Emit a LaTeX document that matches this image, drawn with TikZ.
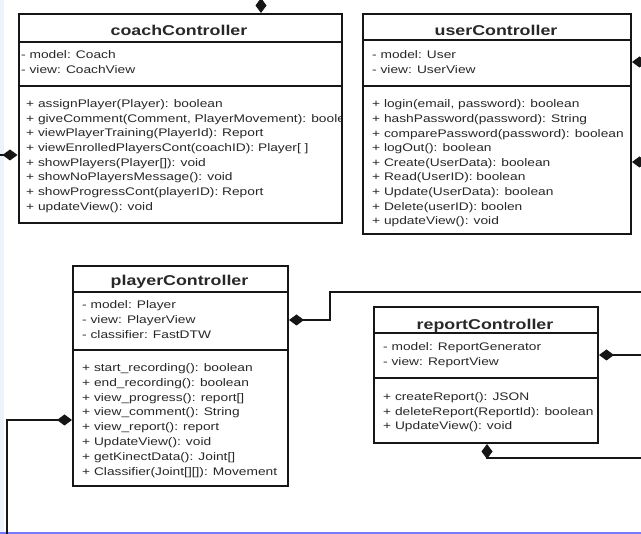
\documentclass[tikz,border=0pt]{standalone}
\usepackage{fontspec}
\setmainfont[FakeStretch=1.25]{Liberation Sans}
\usetikzlibrary{arrows.meta}
\definecolor{ink}{RGB}{22,22,22}
\definecolor{txt}{RGB}{40,40,40}
\definecolor{edgeblue}{RGB}{120,120,255}
\definecolor{paleblue}{RGB}{236,243,251}

\begin{document}
\begin{tikzpicture}[x=1pt,y=-1pt,
  classbox/.style={draw=ink, line width=2pt, fill=white, inner sep=0pt, anchor=north west},
  divider/.style={draw=ink, line width=2pt},
  classname/.style={font=\fontsize{14.25}{17}\selectfont\bfseries, text=txt, inner sep=0pt, anchor=base},
  member/.style={font=\fontsize{11}{13}\selectfont, text=txt, inner sep=0pt, anchor=base west},
  comp/.style={draw=ink, line width=2pt, {Diamond[length=15pt,width=11pt]}-},
]
\useasboundingbox (0,0) rectangle (641,534);
% page frame: pale strip on the left, blue rule at the bottom
\fill[paleblue] (0,0) rectangle (3.5,534);
\draw[edgeblue, line width=2pt] (0,533) -- (641,533);

% ---------------- coachController ----------------
\node[classbox, minimum width=323pt, minimum height=209pt] (coach) at (17.5,13) {};
\draw[divider] ([yshift=-29pt]coach.north west) -- ([yshift=-29pt]coach.north east);
\draw[divider] ([yshift=-73pt]coach.north west) -- ([yshift=-73pt]coach.north east);
\node[classname] (coach-name) at (179,36) {coachController};
\foreach \t [count=\i from 0] in {{- model: Coach},{- view: CoachView}}
  \node[member] (coach-a\i) at (21,58.5+15*\i) {\t};
\begin{scope}
  \clip ([xshift=1pt]coach.north west) rectangle ([xshift=-2.5pt]coach.south east);
  \foreach \t [count=\i from 0] in {
      {+ assignPlayer(Player): boolean},
      {+ giveComment(Comment, PlayerMovement): boolean},
      {+ viewPlayerTraining(PlayerId): Report},
      {+ viewEnrolledPlayersCont(coachID): Player[ ]},
      {+ showPlayers(Player[]): void},
      {+ showNoPlayersMessage(): void},
      {+ showProgressCont(playerID): Report},
      {+ updateView(): void}}
    \node[member] (coach-m\i) at (26,107.5+14.7*\i) {\t};
\end{scope}

% ---------------- userController ----------------
\node[classbox, minimum width=268pt, minimum height=220pt] (user) at (362,13) {};
\draw[divider] ([yshift=-27pt]user.north west) -- ([yshift=-27pt]user.north east);
\draw[divider] ([yshift=-73pt]user.north west) -- ([yshift=-73pt]user.north east);
\node[classname] (user-name) at (496,36) {userController};
\foreach \t [count=\i from 0] in {{- model: User},{- view: UserView}}
  \node[member] (user-a\i) at (372,58.5+15*\i) {\t};
\foreach \t [count=\i from 0] in {
    {+ login(email, password): boolean},
    {+ hashPassword(password): String},
    {+ comparePassword(password): boolean},
    {+ logOut(): boolean},
    {+ Create(UserData): boolean},
    {+ Read(UserID): boolean},
    {+ Update(UserData): boolean},
    {+ Delete(userID): boolen},
    {+ updateView(): void}}
  \node[member] (user-m\i) at (372,108+14.6*\i) {\t};

% ---------------- playerController ----------------
\node[classbox, minimum width=215pt, minimum height=220pt] (player) at (72,265) {};
\draw[divider] ([yshift=-27pt]player.north west) -- ([yshift=-27pt]player.north east);
\draw[divider] ([yshift=-85pt]player.north west) -- ([yshift=-85pt]player.north east);
\node[classname] (player-name) at (179.5,286) {playerController};
\foreach \t [count=\i from 0] in {{- model: Player},{- view: PlayerView},{- classifier: FastDTW}}
  \node[member] (player-a\i) at (82,308.5+15*\i) {\t};
\foreach \t [count=\i from 0] in {
    {+ start\_recording(): boolean},
    {+ end\_recording(): boolean},
    {+ view\_progress(): report[]},
    {+ view\_comment(): String},
    {+ view\_report(): report},
    {+ UpdateView(): void},
    {+ getKinectData(): Joint[]},
    {+ Classifier(Joint[][]): Movement}}
  \node[member] (player-m\i) at (82,371.5+14.8*\i) {\t};

% ---------------- reportController ----------------
\node[classbox, minimum width=224pt, minimum height=136pt] (report) at (373,306) {};
\draw[divider] ([yshift=-27pt]report.north west) -- ([yshift=-27pt]report.north east);
\draw[divider] ([yshift=-72pt]report.north west) -- ([yshift=-72pt]report.north east);
\node[classname] (report-name) at (485,329.5) {reportController};
\foreach \t [count=\i from 0] in {{- model: ReportGenerator},{- view: ReportView}}
  \node[member] (report-a\i) at (383,350.5+15*\i) {\t};
\foreach \t [count=\i from 0] in {
    {+ createReport(): JSON},
    {+ deleteReport(ReportId): boolean},
    {+ UpdateView(): void}}
  \node[member] (report-m\i) at (383,400.5+14.7*\i) {\t};

% ---------------- composition links ----------------
\coordinate (coachTop)  at (261,0);
\coordinate (coachLeft) at (0,155);
\coordinate (userR1)    at (641,62);
\coordinate (userR2)    at (641,162);
\coordinate (playerBend) at (330,320);
\coordinate (playerR)   at (641,292);
\coordinate (playerBendL) at (7,420);
\coordinate (playerDown) at (7,534);
\coordinate (reportR)   at (641,355);
\coordinate (reportBend) at (487,458);
\coordinate (reportB)   at (641,458);

\draw[comp] (coach.north -| coachTop) -- (coachTop);
\draw[comp] (coach.west |- coachLeft) -- (coachLeft);
\draw[comp] (user.east |- userR1) -- (userR1);
\draw[comp] (user.east |- userR2) -- (userR2);
\draw[comp] (player.east |- playerBend) -- (playerBend) |- (playerR);
\draw[comp] (player.west |- playerBendL) -- (playerBendL) -- (playerDown);
\draw[comp] (report.east |- reportR) -- (reportR);
\draw[comp] (report.south -| reportBend) -- (reportBend) -- (reportB);
\end{tikzpicture}
\end{document}
